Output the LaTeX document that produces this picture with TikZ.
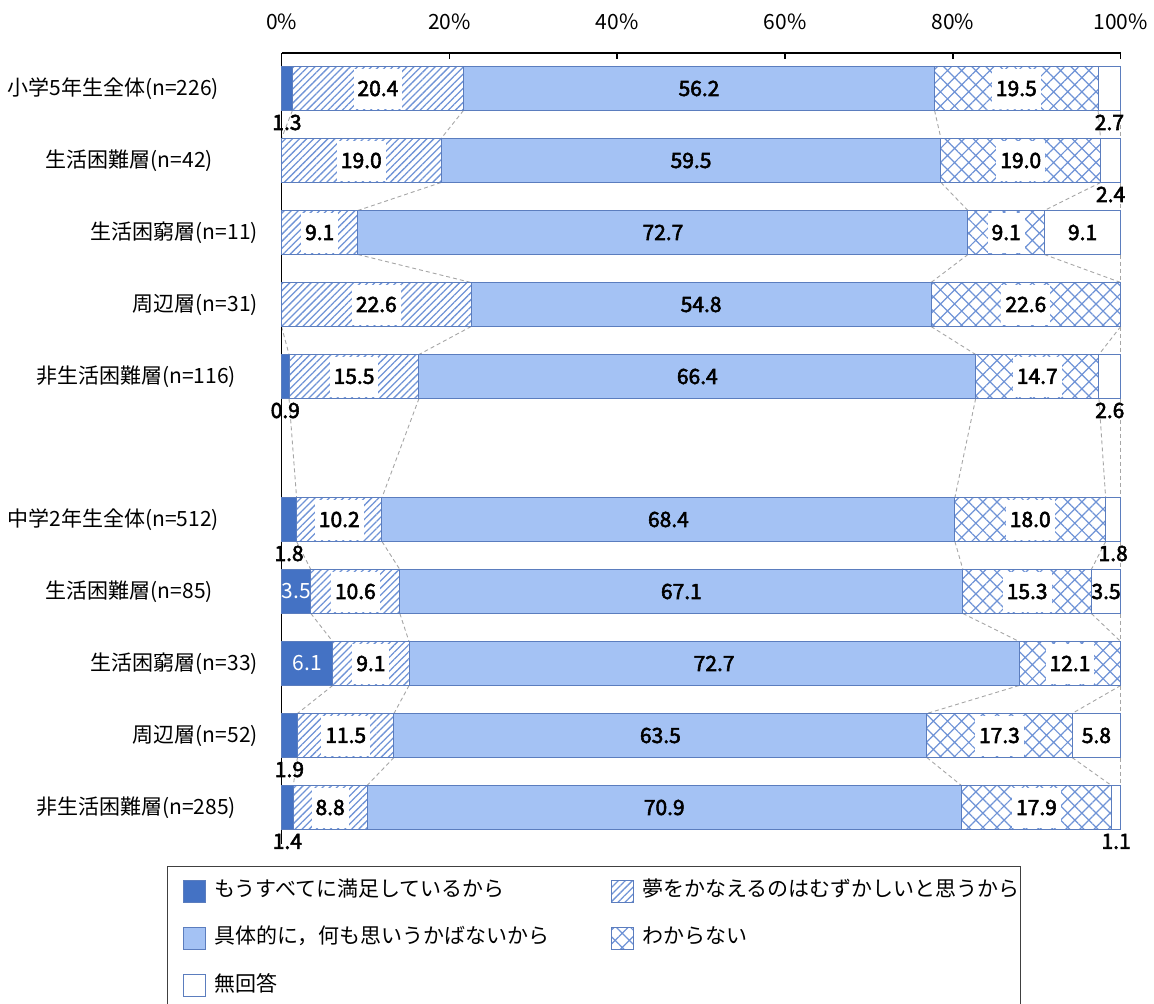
\documentclass[tikz,border=0pt]{standalone}
\usepackage{fontspec}
\setmainfont{Noto Sans CJK JP}
\newfontfamily\medfont[FakeBold=2.6]{Noto Sans CJK JP}
\usetikzlibrary{patterns.meta,backgrounds}
\definecolor{cA}{HTML}{4472C4}
\definecolor{cB}{HTML}{A4C2F4}
\definecolor{edgec}{HTML}{5B7DBE}
\definecolor{hatchc}{HTML}{6F93D6}
\definecolor{connc}{HTML}{A6A6A6}
\tikzset{
  seg/.style={draw=edgec, line width=1pt},
  segA/.style={seg, fill=cA},
  segB/.style={seg, pattern={Lines[angle=45,distance=5pt,line width=1.3pt]}, pattern color=hatchc},
  segC/.style={seg, fill=cB},
  segD/.style={seg, pattern={Hatch[angle=45,distance=10pt,line width=1.2pt]}, pattern color=hatchc},
  segE/.style={seg, fill=white},
  txt/.style={font=\fontsize{21}{25}\selectfont, inner sep=1pt},
  val/.style={font=\fontsize{21}{25}\selectfont\medfont, inner sep=1pt},
  valbox/.style={val, fill=white, minimum height=40pt, inner xsep=4pt},
  valw/.style={txt, text=white},
  conn/.style={draw=connc, line width=0.9pt, dash pattern=on 4pt off 3pt},
  axisline/.style={draw=black, line width=1.4pt},
  legbox/.style={draw=edgec, line width=1pt, minimum width=22pt, minimum height=22pt, inner sep=0pt},
}
\begin{document}
\begin{tikzpicture}[x=1pt,y=-1pt]
\useasboundingbox (0,0) rectangle (1154,1004);
\def\X{281.5}\def\W{839.2}
% axis labels and ticks
\foreach \p in {0,20,40,60,80,100}{
  \pgfmathsetmacro{\xp}{\X+\W*(\p/100)}
  \node[txt] (ax\p) at (\xp,22) {\p\%};
  \draw[axisline] (\xp,53) -- (\xp,59);
}
\draw[axisline] (\X,53) -- ({\X+\W},53);
\draw[axisline] (\X,53) -- (\X,844);
% bars
\foreach \r/\yc/\lab/\lx/\a/\b/\c/\d/\e in {
 1/88.5/小学5年生全体(n=226)/220/1.3/20.4/56.2/19.5/2.7,
 2/160.5/生活困難層(n=42)/214/0/19.0/59.5/19.0/2.4,
 3/232.5/生活困窮層(n=11)/259/0/9.1/72.7/9.1/9.1,
 4/304.5/周辺層(n=31)/259/0/22.6/54.8/22.6/0,
 5/376.5/非生活困難層(n=116)/237/0.9/15.5/66.4/14.7/2.6,
 6/519.5/中学2年生全体(n=512)/220/1.8/10.2/68.4/18.0/1.8,
 7/591.5/生活困難層(n=85)/214/3.5/10.6/67.1/15.3/3.5,
 8/663.5/生活困窮層(n=33)/259/6.1/9.1/72.7/12.1/0,
 9/735.5/周辺層(n=52)/259/1.9/11.5/63.5/17.3/5.8,
 10/807.5/非生活困難層(n=285)/237/1.4/8.8/70.9/17.9/1.1}
{
  \pgfmathsetmacro{\s}{\a+\b+\c+\d+\e}
  \pgfmathsetmacro{\xa}{\X}
  \pgfmathsetmacro{\xb}{\X+\W*(\a/\s)}
  \pgfmathsetmacro{\xc}{\X+\W*((\a+\b)/\s)}
  \pgfmathsetmacro{\xd}{\X+\W*((\a+\b+\c)/\s)}
  \pgfmathsetmacro{\xe}{\X+\W*((\a+\b+\c+\d)/\s)}
  \pgfmathsetmacro{\xf}{\X+\W}
  \pgfmathsetmacro{\yt}{\yc-22}
  \pgfmathsetmacro{\yb}{\yc+22}
  \pgfmathsetmacro{\yl}{\yb+12}
  \node[txt, anchor=east] (lab\r) at (\lx,\yc) {\lab};
  \coordinate (t\r-1) at (\xb,\yt); \coordinate (b\r-1) at (\xb,\yb);
  \coordinate (t\r-2) at (\xc,\yt); \coordinate (b\r-2) at (\xc,\yb);
  \coordinate (t\r-3) at (\xd,\yt); \coordinate (b\r-3) at (\xd,\yb);
  \coordinate (t\r-4) at (\xe,\yt); \coordinate (b\r-4) at (\xe,\yb);
  \coordinate (t\r-5) at (\xf,\yt); \coordinate (b\r-5) at (\xf,\yb);
  % segment A
  \ifdim\a pt>0pt
    \draw[segA] (\xa,\yt) rectangle (\xb,\yb);
    \ifdim\a pt<3pt
      \node[val] (v\r-a) at ({(\xa+\xb)/2},\yl) {\a};
    \else
      \node[valw] (v\r-a) at ({(\xa+\xb)/2},\yc) {\a};
    \fi
  \fi
  % segment B
  \draw[segB] (\xb,\yt) rectangle (\xc,\yb);
  \node[valbox] (v\r-b) at ({(\xb+\xc)/2},\yc) {\b};
  % segment C
  \draw[segC] (\xc,\yt) rectangle (\xd,\yb);
  \node[val] (v\r-c) at ({(\xc+\xd)/2},\yc) {\c};
  % segment D
  \draw[segD] (\xd,\yt) rectangle (\xe,\yb);
  \node[valbox] (v\r-d) at ({(\xd+\xe)/2},\yc) {\d};
  % segment E
  \ifdim\e pt>0pt
    \draw[segE] (\xe,\yt) rectangle (\xf,\yb);
    \ifdim\e pt<3pt
      \node[val] (v\r-e) at ({(\xe+\xf)/2},\yl) {\e};
    \else
      \node[val] (v\r-e) at ({(\xe+\xf)/2},\yc) {\e};
    \fi
  \fi
}
% connectors
\begin{pgfonlayer}{background}
\foreach \r [evaluate=\r as \n using {int(\r+1)}] in {1,...,9}{
  \foreach \k in {1,...,5}{
    \draw[conn] (b\r-\k) -- (t\n-\k);
  }
}
\end{pgfonlayer}
% legend
\draw[draw=black!75, line width=1pt] (167,1006) -- (167,866.5) -- (1020,866.5) -- (1020,1006);
\node[legbox, fill=cA] (lg1) at (194.5,891) {};
\node[txt, anchor=west] (lt1) at (213,889) {もうすべてに満足しているから};
\node[legbox, fill=cB] (lg2) at (194.5,938) {};
\node[txt, anchor=west] (lt2) at (213,936) {具体的に，何も思いうかばないから};
\node[legbox, fill=white] (lg3) at (194.5,985) {};
\node[txt, anchor=west] (lt3) at (213,983) {無回答};
\node[legbox, pattern={Lines[angle=45,distance=5pt,line width=1.3pt]}, pattern color=hatchc] (lg4) at (622,891) {};
\node[txt, anchor=west] (lt4) at (641,889) {夢をかなえるのはむずかしいと思うから};
\node[legbox, pattern={Hatch[angle=45,distance=10pt,line width=1.2pt]}, pattern color=hatchc] (lg5) at (622,938) {};
\node[txt, anchor=west] (lt5) at (641,936) {わからない};
\end{tikzpicture}
\end{document}
